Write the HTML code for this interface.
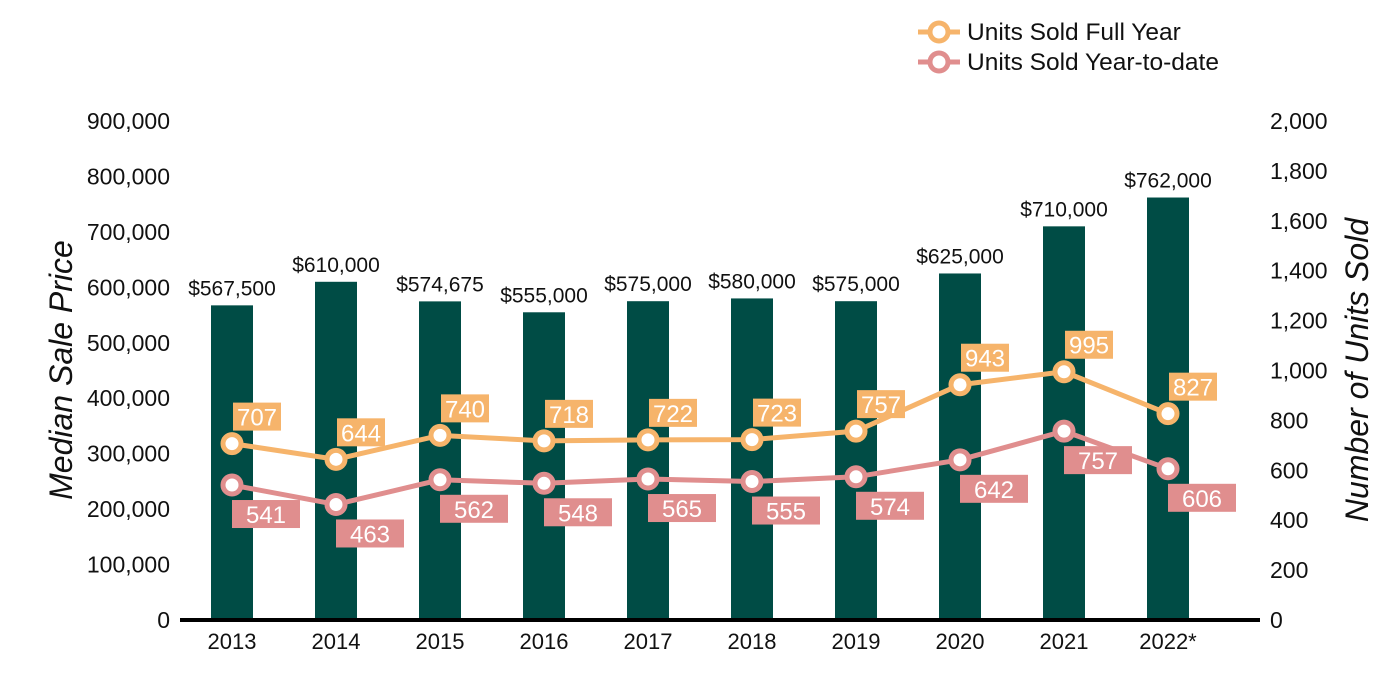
<!DOCTYPE html>
<html><head><meta charset="utf-8"><style>
body{margin:0;background:#fff;}
svg{display:block;font-family:"Liberation Sans",sans-serif;}
</style></head><body>
<svg id="c" width="1400" height="700"></svg>
<script>
const categories=["2013","2014","2015","2016","2017","2018","2019","2020","2021","2022*"];
const prices=[567500,610000,574675,555000,575000,580000,575000,625000,710000,762000];
const fullYear=[707,644,740,718,722,723,757,943,995,827];
const ytd=[541,463,562,548,565,555,574,642,757,606];
const leftTicks=[0,100000,200000,300000,400000,500000,600000,700000,800000,900000];
const rightTicks=[0,200,400,600,800,1000,1200,1400,1600,1800,2000];
const NS="http://www.w3.org/2000/svg";
const svg=document.getElementById('c');
function mk(t,a,p){const e=document.createElementNS(NS,t);for(const k in a)e.setAttribute(k,a[k]);(p||svg).appendChild(e);return e;}
const y0=620,yTop=121;
const yL=v=>y0-(v/900000)*(y0-yTop);
const yR=v=>y0-(v/2000)*(y0-yTop);
const xC=i=>232+i*104;
const fmt=v=>v.toLocaleString('en-US');
leftTicks.forEach(v=>{const t=mk('text',{x:170,y:yL(v)+8,'text-anchor':'end','font-size':23,fill:'#111'});t.textContent=fmt(v);
});
rightTicks.forEach(v=>{const t=mk('text',{x:1270,y:yR(v)+8,'font-size':23,fill:'#111'});t.textContent=fmt(v);
});
let t=mk('text',{transform:'translate(72,370) rotate(-90)','text-anchor':'middle','font-size':32,'font-style':'italic',fill:'#111'});t.textContent='Median Sale Price';

t=mk('text',{transform:'translate(1368,370) rotate(-90)','text-anchor':'middle','font-size':32,'font-style':'italic',fill:'#111'});t.textContent='Number of Units Sold';

categories.forEach((c,i)=>{
 const r=mk('rect',{x:xC(i)-21,y:yL(prices[i]),width:42,height:y0-yL(prices[i]),fill:'#004C45'});
 
 const l=mk('text',{x:xC(i),y:yL(prices[i])-10,'text-anchor':'middle','font-size':21,fill:'#111'});l.textContent='$'+fmt(prices[i]);
 
 const x=mk('text',{x:xC(i),y:649,'text-anchor':'middle','font-size':22,fill:'#111'});x.textContent=c;
 
});
const ax=mk('line',{x1:180,x2:1260,y1:y0,y2:y0,stroke:'#000','stroke-width':4});

function series(vals,color,name,boxW,dx,dy){
 const pl=mk('polyline',{points:vals.map((v,i)=>xC(i)+','+yR(v)).join(' '),fill:'none',stroke:color,'stroke-width':5});
 
 vals.forEach((v,i)=>{
  const c=mk('circle',{cx:xC(i),cy:yR(v),r:9,fill:'#fff',stroke:color,'stroke-width':5});
  
  const bx=xC(i)+dx,by=yR(v)+dy;
  const b=mk('rect',{x:bx,y:by,width:boxW,height:28,fill:color});
  
  const l=mk('text',{x:bx+boxW/2,y:by+23,'text-anchor':'middle','font-size':24,fill:'#fff'});l.textContent=v;
  
 });
}
series(fullYear,'#F6B46B','full-year',48,1,-41);
series(ytd,'#E08E8E','ytd',68,0,15);
[['Units Sold Full Year','#F6B46B',32],['Units Sold Year-to-date','#E08E8E',62]].forEach(([n,c,y])=>{
 const g=mk('g',{});
 mk('line',{x1:918,x2:960,y1:y,y2:y,stroke:c,'stroke-width':5},g);
 mk('circle',{cx:939,cy:y,r:9,fill:'#fff',stroke:c,'stroke-width':5},g);
 const tt=mk('text',{x:967,y:y+8,'font-size':24.5,fill:'#111'},g);tt.textContent=n;
});
</script>
</body></html>
